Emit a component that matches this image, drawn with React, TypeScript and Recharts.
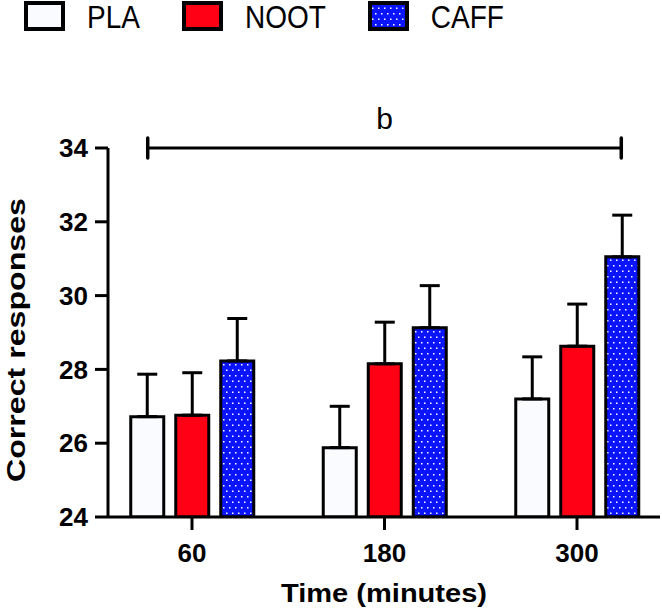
import React from 'react';
import { BarChart, Bar, XAxis, YAxis, ErrorBar, Legend, ReferenceLine } from 'recharts';

const categories = ['60', '180', '300'];
const plaMeans = [26.72, 25.88, 27.2];
const plaErrors = [1.15, 1.12, 1.14];
const nootMeans = [26.76, 28.15, 28.63];
const nootErrors = [1.15, 1.13, 1.14];
const caffMeans = [28.23, 29.13, 31.05];
const caffErrors = [1.15, 1.14, 1.13];

const seriesNames = ['PLA', 'NOOT', 'CAFF'];
const seriesKeys = ['pla', 'noot', 'caff'];
const seriesFills = ['#fafbff', '#ff0014', 'url(#caffDots)'];

const yTicks = [24, 26, 28, 30, 32, 34];
const yDomain = [24, 34];

const bracketFrom = '60';
const bracketTo = '300';
const bracketY = 34;
const bracketLabel = 'b';
const bracketExtend = 0.23; // fraction of one category step beyond the outer categories

const xTitle = 'Time (minutes)';
const yTitle = 'Correct responses';

const data = categories.map((time, i) => ({
  time,
  pla: plaMeans[i],
  plaErr: plaErrors[i],
  noot: nootMeans[i],
  nootErr: nootErrors[i],
  caff: caffMeans[i],
  caffErr: caffErrors[i],
}));

const FONT = '"Liberation Sans", Arial, Helvetica, sans-serif';
const LEGEND_H = 36;

const DotPattern = ({ id }: { id: string }) => (
  <pattern id={id} width={12} height={11} patternUnits="userSpaceOnUse">
    <rect width={12} height={11} fill="#0a14ff" />
    <rect x={1} y={1} width={1.5} height={1.5} fill="#ffffff" />
    <rect x={7} y={1} width={1.5} height={1.5} fill="#ffffff" />
    <rect x={4} y={6.5} width={1.5} height={1.5} fill="#ffffff" />
    <rect x={10} y={6.5} width={1.5} height={1.5} fill="#ffffff" />
  </pattern>
);

const renderLegend = () => (
  <div
    style={{
      display: 'flex',
      alignItems: 'flex-start',
      height: LEGEND_H,
      paddingLeft: 24,
      fontFamily: FONT,
      boxSizing: 'border-box',
    }}
  >
    {seriesNames.map((name, i) => (
      <div key={name} style={{ display: 'flex', alignItems: 'flex-start', marginRight: 42 }}>
        <svg width={41} height={30} style={{ marginRight: 22, marginTop: 1, display: 'block' }}>
          <defs>
            <DotPattern id="caffDotsLegend" />
          </defs>
          <rect
            x={2}
            y={2}
            width={37}
            height={26}
            fill={i === 2 ? 'url(#caffDotsLegend)' : seriesFills[i]}
            stroke="#000"
            strokeWidth={4}
          />
        </svg>
        <span
          style={{
            display: 'inline-block',
            fontSize: 28,
            lineHeight: `${LEGEND_H}px`,
            height: LEGEND_H,
            color: '#000',
            transform: 'scaleY(1.12)',
          }}
        >
          {name}
        </span>
      </div>
    ))}
  </div>
);

const BracketShape = (props: any) => {
  const { x1, y1, x2 } = props;
  if (x1 == null || x2 == null || y1 == null) return null;
  const ext = ((x2 - x1) / 2) * bracketExtend;
  const left = x1 - ext;
  const right = x2 + ext;
  return (
    <g stroke="#000" strokeLinecap="round">
      <line x1={left} y1={y1} x2={right} y2={y1} strokeWidth={3} />
      <line x1={left} y1={y1 - 10} x2={left} y2={y1 + 10} strokeWidth={3.5} />
      <line x1={right} y1={y1 - 10} x2={right} y2={y1 + 10} strokeWidth={3.5} />
    </g>
  );
};

const XTitle = (props: any) => {
  const vb = props.viewBox || {};
  return (
    <text
      x={vb.x + vb.width / 2}
      y={vb.y + vb.height - 11}
      textAnchor="middle"
      fill="#000"
      fontSize={26}
      fontWeight={700}
      textLength={206}
      lengthAdjust="spacingAndGlyphs"
    >
      {xTitle}
    </text>
  );
};

const YTitle = (props: any) => {
  const vb = props.viewBox || {};
  const cx = vb.x + 25;
  const cy = vb.y + vb.height / 2 + 7.5;
  return (
    <text
      x={cx}
      y={cy}
      transform={`rotate(-90, ${cx}, ${cy})`}
      textAnchor="middle"
      fill="#000"
      fontSize={26}
      fontWeight={700}
      textLength={284}
      lengthAdjust="spacingAndGlyphs"
    >
      {yTitle}
    </text>
  );
};

export default function App() {
  return (
    <div
      style={{
        position: 'absolute',
        left: 0,
        top: 0,
        width: 662,
        height: 613,
        background: '#fff',
        fontFamily: FONT,
      }}
    >
      <BarChart
        width={662}
        height={613}
        data={data}
        margin={{ top: 148 - LEGEND_H, right: 2, bottom: 0, left: 0 }}
        barSize={33}
        barGap={12}
      >
        <defs>
          <DotPattern id="caffDots" />
        </defs>
        <Legend
          verticalAlign="top"
          align="left"
          wrapperStyle={{ top: 0, left: 0, width: 662, height: LEGEND_H }}
          content={renderLegend}
        />
        <XAxis
          dataKey="time"
          height={96}
          padding={{ left: -12.25, right: -13.25 }}
          axisLine={{ stroke: '#000', strokeWidth: 3 }}
          tickLine={{ stroke: '#000', strokeWidth: 3 }}
          tickSize={13}
          tickMargin={14}
          tick={{ fill: '#000', fontSize: 26, fontWeight: 700 }}
          label={{ content: XTitle }}
        />
        <YAxis
          domain={yDomain}
          ticks={yTicks}
          allowDataOverflow
          width={108}
          axisLine={{ stroke: '#000', strokeWidth: 3 }}
          tickLine={{ stroke: '#000', strokeWidth: 3 }}
          tickSize={13}
          tickMargin={7}
          tick={{ fill: '#000', fontSize: 26, fontWeight: 700 }}
          label={{ content: YTitle }}
        />
        {seriesKeys.map((key, i) => (
          <Bar
            key={key}
            dataKey={key}
            name={seriesNames[i]}
            fill={seriesFills[i]}
            stroke="#000"
            strokeWidth={3}
            isAnimationActive={false}
          >
            <ErrorBar
              dataKey={(d: any) => [0, d[key + 'Err']]}
              width={10}
              stroke="#000"
              strokeWidth={3}
              isAnimationActive={false}
            />
          </Bar>
        ))}
        <ReferenceLine
          segment={[
            { x: bracketFrom, y: bracketY },
            { x: bracketTo, y: bracketY },
          ]}
          ifOverflow="visible"
          shape={BracketShape}
          label={{ value: bracketLabel, position: 'top', offset: 19, fill: '#000', fontSize: 30 }}
        />
      </BarChart>
    </div>
  );
}
